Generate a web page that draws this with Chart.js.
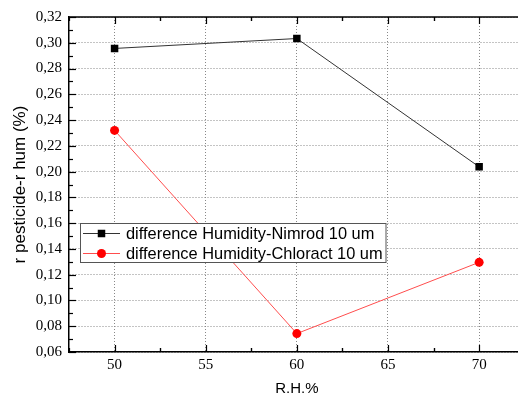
<!DOCTYPE html>
<html>
<head>
<meta charset="utf-8">
<script src="https://cdn.jsdelivr.net/npm/chart.js@4.4.1/dist/chart.umd.min.js"></script>
<style>
  html, body { margin: 0; padding: 0; background: #fff; overflow: hidden; }
  #wrap { position: relative; width: 530px; height: 400px; }
</style>
</head>
<body>
<div id="wrap"><canvas id="c"></canvas></div>
<script>
const rh = [50, 60, 70];
const nimrod = [0.2956, 0.3033, 0.2037];
const chloract = [0.232, 0.0743, 0.1296];
const seriesLabels = ['difference Humidity-Nimrod 10 um', 'difference Humidity-Chloract 10 um'];
const xTicks = [50, 55, 60, 65, 70];
const yTicks = [0.06, 0.08, 0.10, 0.12, 0.14, 0.16, 0.18, 0.20, 0.22, 0.24, 0.26, 0.28, 0.30, 0.32];
const xTitle = 'R.H.%';
const yTitle = 'r pesticide-r hum (%)';

const axisDecor = {
  id: 'axisDecor',
  afterDatasetsDraw(chart) {
    const {ctx, chartArea: a, scales: {x, y}} = chart;
    ctx.save();
    ctx.strokeStyle = '#000';
    ctx.lineWidth = 1.5;
    ctx.beginPath();
    ctx.moveTo(a.left, a.top);
    ctx.lineTo(a.right + 5, a.top);
    ctx.stroke();
    ctx.lineWidth = 1.2;
    for (let i = 0; i < xTicks.length; i++) {
      const v = xTicks[i];
      const px = Math.round(x.getPixelForValue(v)) + 0.5;
      ctx.beginPath();
      ctx.moveTo(px, a.bottom); ctx.lineTo(px, a.bottom - 7);
      ctx.moveTo(px, a.top); ctx.lineTo(px, a.top + 7);
      ctx.stroke();
      [v - 2.5, v + 2.5].forEach(m => {
        if (m < x.min || m > x.max) return;
        const pm = Math.round(x.getPixelForValue(m)) + 0.5;
        ctx.beginPath();
        ctx.moveTo(pm, a.bottom); ctx.lineTo(pm, a.bottom - 4);
        ctx.moveTo(pm, a.top); ctx.lineTo(pm, a.top + 4);
        ctx.stroke();
      });
    }
    for (let i = 0; i < yTicks.length; i++) {
      const py = Math.round(y.getPixelForValue(yTicks[i])) + 0.5;
      ctx.beginPath();
      ctx.moveTo(a.left, py); ctx.lineTo(a.left + 7, py);
      ctx.stroke();
      if (i < yTicks.length - 1) {
        const pm = Math.round(y.getPixelForValue((yTicks[i] + yTicks[i + 1]) / 2)) + 0.5;
        ctx.beginPath();
        ctx.moveTo(a.left, pm); ctx.lineTo(a.left + 4, pm);
        ctx.stroke();
      }
    }
    ctx.restore();
  },
  afterDraw(chart) {
    const {ctx} = chart;
    ctx.save();
    const bx = 80.5, by = 223.5, bw = 305.5, bh = 39;
    ctx.fillStyle = '#fff';
    ctx.fillRect(bx, by, bw, bh);
    ctx.strokeStyle = '#555';
    ctx.lineWidth = 1;
    ctx.strokeRect(bx, by, bw, bh);
    ctx.font = '16.4px "Liberation Sans", Arial, sans-serif';
    ctx.textBaseline = 'middle';
    chart.data.datasets.forEach((ds, i) => {
      const ly = 233.5 + i * 20;
      ctx.strokeStyle = ds.borderColor;
      ctx.lineWidth = 1;
      ctx.beginPath();
      ctx.moveTo(83, ly); ctx.lineTo(120, ly);
      ctx.stroke();
      ctx.fillStyle = ds.pointBackgroundColor;
      if (ds.pointStyle === 'rect') {
        ctx.fillRect(101.5 - 3.75, ly - 3.75, 7.5, 7.5);
      } else {
        ctx.beginPath();
        ctx.arc(101.5, ly, 4.5, 0, Math.PI * 2);
        ctx.fill();
      }
      ctx.fillStyle = '#000';
      ctx.fillText(ds.label, 126, ly + 1);
    });
    ctx.restore();
  }
};

new Chart(document.getElementById('c'), {
  type: 'line',
  data: {
    datasets: [
      {
        label: seriesLabels[0],
        data: rh.map((v, i) => ({x: v, y: nimrod[i]})),
        borderColor: '#333',
        borderWidth: 1,
        pointStyle: 'rect',
        pointRadius: 5.3,
        pointBackgroundColor: '#000',
        pointBorderColor: '#000',
        pointBorderWidth: 0,
        tension: 0
      },
      {
        label: seriesLabels[1],
        data: rh.map((v, i) => ({x: v, y: chloract[i]})),
        borderColor: '#ff4d4d',
        borderWidth: 1,
        pointStyle: 'circle',
        pointRadius: 4.5,
        pointBackgroundColor: '#ff0000',
        pointBorderColor: '#ff0000',
        pointBorderWidth: 0,
        tension: 0
      }
    ]
  },
  plugins: [axisDecor],
  options: {
    responsive: true,
    maintainAspectRatio: false,
    animation: false,
    layout: { padding: { top: 17, right: 3, left: 0, bottom: 0 } },
    plugins: { legend: { display: false }, tooltip: { enabled: false } },
    scales: {
      x: {
        type: 'linear',
        min: 47.5,
        max: 72.5,
        afterBuildTicks: s => { s.ticks = xTicks.map(v => ({value: v})); },
        afterFit: s => { s.height = 48; },
        grid: { color: '#888', lineWidth: 1, drawTicks: false },
        border: { display: true, color: '#000', width: 1.5, dash: [1, 2] },
        ticks: {
          padding: 4,
          color: '#000',
          font: { family: '"Liberation Serif", "Times New Roman", serif', size: 15 },
          callback: v => String(v)
        },
        title: {
          display: true,
          text: xTitle,
          color: '#000',
          font: { family: '"Liberation Sans", Arial, sans-serif', size: 15 },
          padding: { top: 0, bottom: 2 }
        }
      },
      y: {
        type: 'linear',
        min: 0.06,
        max: 0.32,
        afterBuildTicks: s => { s.ticks = yTicks.map(v => ({value: v})); },
        afterFit: s => { s.width = 69; },
        grid: { color: '#888', lineWidth: 1, drawTicks: false },
        border: { display: true, color: '#000', width: 1.5, dash: [1, 2] },
        ticks: {
          padding: 7,
          color: '#000',
          font: { family: '"Liberation Serif", "Times New Roman", serif', size: 15 },
          callback: v => v.toFixed(2).replace('.', ',')
        },
        title: {
          display: true,
          text: yTitle,
          color: '#000',
          font: { family: '"Liberation Sans", Arial, sans-serif', size: 17 },
          padding: { top: 10, bottom: 0 }
        }
      }
    }
  }
});
</script>
</body>
</html>
